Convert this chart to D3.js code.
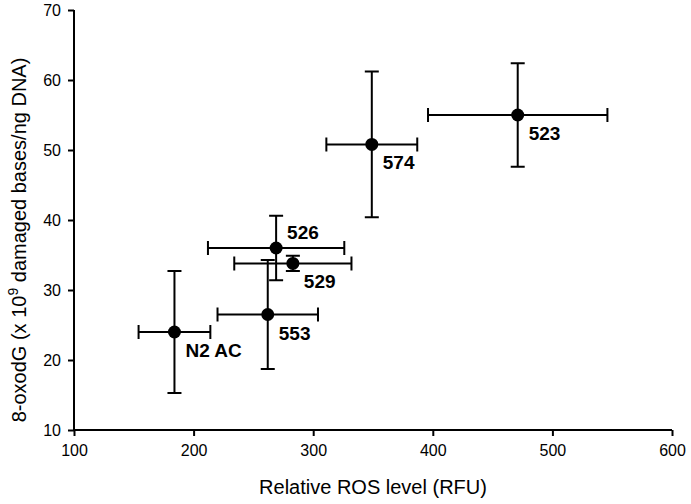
<!DOCTYPE html>
<meta charset="utf-8">
<script src="https://d3js.org/d3.v7.min.js"></script>
<style>
    body { margin: 0; background: #fff; }
    .tick text { font-family: "Liberation Sans", Arial, sans-serif; font-size: 16px; fill: #000; }
    .axis-title { font-family: "Liberation Sans", Arial, sans-serif; font-size: 20px; fill: #000; }
    .pt-label { font-family: "Liberation Sans", Arial, sans-serif; font-size: 19px; font-weight: bold; fill: #000; }
</style>
<div id="chart"></div>
<script>
    // strain names and measured values (mean +/- error)
    const strains = ["N2 AC", "526", "529", "553", "574", "523"];
    const rosLevel = [184, 269, 283, 262, 349, 471];
    const rosErr = [30, 57, 49, 42, 38, 75];
    const oxoLevel = [24, 36, 33.8, 26.5, 50.8, 55];
    const oxoErr = [8.7, 4.6, 1.1, 7.8, 10.4, 7.4];
    // label offset side: "below" or "above"
    const labelSide = ["below", "above", "below", "below", "below", "below"];

    const xTicks = [100, 200, 300, 400, 500, 600];
    const yTicks = [10, 20, 30, 40, 50, 60, 70];

    const width = 691, height = 504;
    const margin = {top: 10, right: 19, bottom: 74, left: 74};

    const svg = d3.select("#chart")
        .append("svg")
        .attr("width", width)
        .attr("height", height);

    const x = d3.scaleLinear()
        .domain([100, 600])
        .range([margin.left, width - margin.right]);

    const y = d3.scaleLinear()
        .domain([10, 70])
        .range([height - margin.bottom, margin.top]);

    const data = strains.map(function (d, i) {
        return {name: d, x: rosLevel[i], xe: rosErr[i], y: oxoLevel[i], ye: oxoErr[i], side: labelSide[i]};
    });

    // axes
    const xAxis = svg.append("g")
        .attr("transform", "translate(0," + y(10) + ")")
        .call(d3.axisBottom(x).tickValues(xTicks).tickSize(6).tickPadding(9).tickFormat(d3.format("d")));

    const yAxis = svg.append("g")
        .attr("transform", "translate(" + x(100) + ",0)")
        .call(d3.axisLeft(y).tickValues(yTicks).tickSize(6).tickPadding(7).tickFormat(d3.format("d")));

    [xAxis, yAxis].forEach(function (ax) {
        ax.select(".domain").attr("stroke", "#000").attr("stroke-width", 2);
        ax.selectAll(".tick line").attr("stroke", "#000").attr("stroke-width", 2);
    });
    xAxis.select(".domain").attr("d", "M" + x(100) + ",0H" + x(600));
    yAxis.select(".domain").attr("d", "M0," + y(70) + "V" + y(10));

    // axis titles
    svg.append("text")
        .attr("class", "axis-title")
        .attr("x", (x(100) + x(600)) / 2)
        .attr("y", 494)
        .attr("text-anchor", "middle")
        .text("Relative ROS level (RFU)");

    const yTitle = svg.append("text")
        .attr("class", "axis-title")
        .attr("transform", "translate(26,240) rotate(-90)")
        .attr("text-anchor", "middle");
    yTitle.append("tspan").text("8-oxodG (x 10");
    yTitle.append("tspan").attr("baseline-shift", "super").attr("font-size", "14px").text("9");
    yTitle.append("tspan").text(" damaged bases/ng DNA)");

    const cap = 7;
    const g = svg.append("g");

    // horizontal error bars
    g.selectAll(".xerr")
        .data(data)
        .enter()
        .append("path")
        .attr("fill", "none")
        .attr("stroke", "#000")
        .attr("stroke-width", 2)
        .attr("d", function (d) {
            const x0 = x(d.x - d.xe), x1 = x(d.x + d.xe), yy = y(d.y);
            return "M" + x0 + "," + (yy - cap) + "V" + (yy + cap) +
                "M" + x0 + "," + yy + "H" + x1 +
                "M" + x1 + "," + (yy - cap) + "V" + (yy + cap);
        });

    // vertical error bars
    g.selectAll(".yerr")
        .data(data)
        .enter()
        .append("path")
        .attr("fill", "none")
        .attr("stroke", "#000")
        .attr("stroke-width", 2)
        .attr("d", function (d) {
            const y0 = y(d.y - d.ye), y1 = y(d.y + d.ye), xx = x(d.x);
            return "M" + (xx - cap) + "," + y0 + "H" + (xx + cap) +
                "M" + xx + "," + y0 + "V" + y1 +
                "M" + (xx - cap) + "," + y1 + "H" + (xx + cap);
        });

    // points
    g.selectAll("circle")
        .data(data)
        .enter()
        .append("circle")
        .attr("cx", function (d) { return x(d.x); })
        .attr("cy", function (d) { return y(d.y); })
        .attr("r", 6.5)
        .attr("fill", "#000");

    // labels
    g.selectAll(".pt-label")
        .data(data)
        .enter()
        .append("text")
        .attr("class", "pt-label")
        .attr("x", function (d) { return x(d.x) + 11; })
        .attr("y", function (d) { return y(d.y) + (d.side === "above" ? -9 : 25); })
        .text(function (d) { return d.name; });
</script>
